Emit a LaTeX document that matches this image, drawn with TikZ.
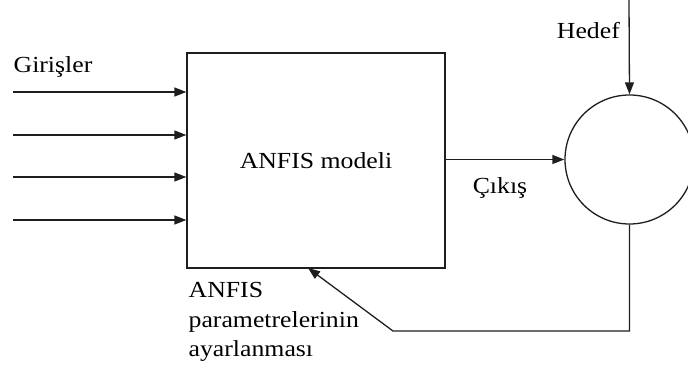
\documentclass[tikz,border=0pt]{standalone}
\usepackage{fontspec}
\setmainfont{Liberation Serif}[FakeStretch=1.12]
\usetikzlibrary{arrows.meta,positioning,calc}
\definecolor{ink}{RGB}{30,30,30}

\begin{document}
\begin{tikzpicture}[x=1pt,y=-1pt,>={Triangle[length=12pt,width=9pt]},
  line width=1.3pt,draw=ink,
  lbl/.style={font=\fontsize{23}{29.5}\selectfont,inner sep=0pt}]
\useasboundingbox (0,0) rectangle (688,374);
\node[draw,minimum width=258pt,minimum height=215pt,lbl] (A) at (316,160.5) {ANFIS modeli};
\node[draw,circle,minimum size=129pt] (C) at (629.5,159.5) {};
\foreach \y [count=\i] in {92,135,177,220}
  \coordinate (in\i) at (13,\y);
\foreach \i in {1,...,4}
  \draw[->] (in\i) -- (A.west |- in\i);
\node[lbl] (G) at (53,67) {Girişler};
\coordinate (H) at (629,0);
\draw[->] (H) -- (C.north);
\node[lbl,left=9pt of C.north,yshift=64pt] (Hd) {Hedef};
\draw[->] (A.east |- C.west) -- (C.west);
\node[lbl] (Ck) at (500,188) {Çıkış};
\coordinate (K) at (393,331);
\coordinate (T) at (308,268);
\draw[->] (C.south) |- (K) -- (T);
\node[lbl,align=left,anchor=north west] (P) at (188,282) {ANFIS\\parametrelerinin\\ayarlanması};
\end{tikzpicture}
\end{document}
